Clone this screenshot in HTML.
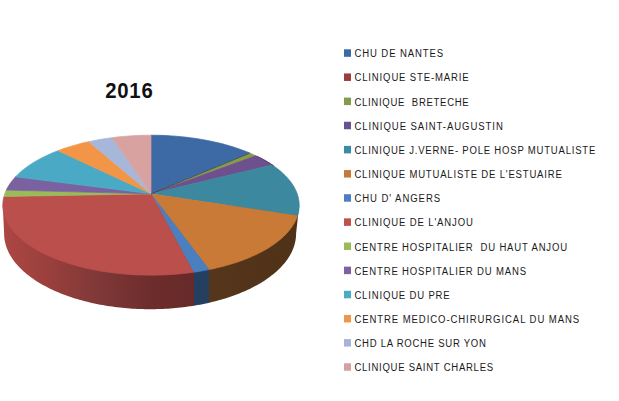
<!DOCTYPE html>
<html><head><meta charset="utf-8"><style>
html,body{margin:0;padding:0;background:#fff;width:619px;height:401px;overflow:hidden}
svg{display:block}
</style></head><body>
<svg width="619" height="401" viewBox="0 0 619 401">
<defs>
<linearGradient id="gr" x1="0" y1="0" x2="1" y2="0" gradientUnits="objectBoundingBox">
<stop offset="0" stop-color="#ad4744"/><stop offset="0.23" stop-color="#9c403d"/><stop offset="0.515" stop-color="#7e3837"/><stop offset="0.77" stop-color="#6e2d2d"/><stop offset="1" stop-color="#672929"/>
</linearGradient>
<linearGradient id="gb" x1="0" y1="0" x2="1" y2="0">
<stop offset="0" stop-color="#56361b"/><stop offset="1" stop-color="#4e3118"/>
</linearGradient>
<clipPath id="cs"><path d="M299.2 205.2 L296.1 233.6 L296.08 234.92 L296.01 236.24 L295.9 237.56 L295.74 238.87 L295.54 240.19 L295.3 241.5 L295.01 242.81 L294.68 244.12 L294.3 245.43 L293.88 246.73 L293.42 248.03 L292.91 249.32 L292.36 250.61 L291.76 251.89 L291.13 253.17 L290.44 254.44 L289.72 255.7 L288.95 256.96 L288.15 258.21 L287.3 259.46 L286.4 260.69 L285.47 261.92 L284.49 263.14 L283.48 264.35 L282.42 265.55 L281.32 266.74 L280.19 267.92 L279.01 269.09 L277.79 270.25 L276.54 271.4 L275.25 272.54 L273.92 273.66 L272.55 274.77 L271.14 275.87 L269.7 276.96 L268.22 278.04 L266.7 279.1 L265.15 280.14 L263.56 281.18 L261.94 282.19 L260.29 283.2 L258.6 284.19 L256.88 285.16 L255.12 286.12 L253.34 287.06 L251.52 287.98 L249.67 288.89 L247.79 289.78 L245.88 290.66 L243.95 291.51 L241.98 292.35 L239.99 293.17 L237.96 293.98 L235.92 294.76 L233.84 295.53 L231.74 296.28 L229.62 297 L227.47 297.71 L225.3 298.4 L223.1 299.07 L220.88 299.72 L218.64 300.35 L216.38 300.96 L214.1 301.55 L211.8 302.12 L209.48 302.66 L207.15 303.19 L204.79 303.7 L202.42 304.18 L200.03 304.64 L197.63 305.08 L195.22 305.5 L192.79 305.9 L190.34 306.27 L187.89 306.62 L185.42 306.95 L182.94 307.26 L180.46 307.55 L177.96 307.81 L175.45 308.05 L172.94 308.27 L170.42 308.46 L167.89 308.64 L165.36 308.79 L162.82 308.91 L160.28 309.02 L157.74 309.1 L155.2 309.15 L152.65 309.19 L150.1 309.2 L147.55 309.19 L145 309.15 L142.46 309.1 L139.92 309.02 L137.38 308.91 L134.84 308.79 L132.31 308.64 L129.78 308.46 L127.26 308.27 L124.75 308.05 L122.24 307.81 L119.74 307.55 L117.26 307.26 L114.78 306.95 L112.31 306.62 L109.86 306.27 L107.41 305.9 L104.98 305.5 L102.57 305.08 L100.17 304.64 L97.78 304.18 L95.41 303.7 L93.05 303.19 L90.72 302.66 L88.4 302.12 L86.1 301.55 L83.82 300.96 L81.56 300.35 L79.32 299.72 L77.1 299.07 L74.9 298.4 L72.73 297.71 L70.58 297 L68.46 296.28 L66.36 295.53 L64.28 294.76 L62.24 293.98 L60.21 293.17 L58.22 292.35 L56.25 291.51 L54.32 290.66 L52.41 289.78 L50.53 288.89 L48.68 287.98 L46.86 287.06 L45.08 286.12 L43.32 285.16 L41.6 284.19 L39.91 283.2 L38.26 282.19 L36.64 281.18 L35.05 280.14 L33.5 279.1 L31.98 278.04 L30.5 276.96 L29.06 275.87 L27.65 274.77 L26.28 273.66 L24.95 272.54 L23.66 271.4 L22.41 270.25 L21.19 269.09 L20.01 267.92 L18.88 266.74 L17.78 265.55 L16.72 264.35 L15.71 263.14 L14.73 261.92 L13.8 260.69 L12.9 259.46 L12.05 258.21 L11.25 256.96 L10.48 255.7 L9.76 254.44 L9.07 253.17 L8.44 251.89 L7.84 250.61 L7.29 249.32 L6.78 248.03 L6.32 246.73 L5.9 245.43 L5.52 244.12 L5.19 242.81 L4.9 241.5 L4.66 240.19 L4.46 238.87 L4.3 237.56 L4.19 236.24 L4.12 234.92 L4.1 233.6 L2.8 205.2Z"/></clipPath>
</defs>
<rect width="619" height="401" fill="#fff"/>
<g clip-path="url(#cs)">
<rect x="0" y="190" width="194" height="130" fill="url(#gr)"/>
<rect x="194" y="190" width="15" height="130" fill="#243f5f"/>
<rect x="209" y="190" width="101" height="130" fill="url(#gb)"/>
</g>
<path d="M151 193.8 L151 135.2 L156.15 135.24 L161.3 135.37 L166.44 135.58 L171.55 135.88 L176.64 136.26 L181.7 136.72 L186.73 137.26 L191.71 137.89 L196.64 138.6 L201.51 139.39 L206.33 140.26 L211.07 141.21 L215.75 142.23 L220.34 143.34 L224.86 144.51 L229.28 145.76 L233.61 147.08 L237.84 148.48 L241.96 149.94 L245.97 151.46 L249.87 153.06Z" fill="#3d69a5" stroke="#3d69a5" stroke-width="0.7" stroke-linejoin="round"/>
<path d="M151 193.8 L249.87 153.06 L252.92 154.38 L255.88 155.74Z" fill="#879c4a" stroke="#879c4a" stroke-width="0.7" stroke-linejoin="round"/>
<path d="M151 193.8 L255.88 155.74 L259.4 157.47 L262.8 159.25 L266.06 161.08 L269.19 162.97 L272.18 164.91Z" fill="#6d508d" stroke="#6d508d" stroke-width="0.7" stroke-linejoin="round"/>
<path d="M151 193.8 L272.18 164.91 L275.08 166.92 L277.83 168.99 L280.42 171.09 L282.85 173.24 L285.13 175.43 L287.24 177.65 L289.19 179.91 L290.97 182.19 L292.58 184.51 L294.02 186.85 L295.28 189.21 L296.37 191.59 L297.29 193.99 L298.03 196.4 L298.58 198.83 L298.96 201.26 L299.17 203.69 L299.19 206.13 L299.03 208.56 L298.69 211 L298.17 213.42 L297.48 215.83Z" fill="#3c889f" stroke="#3c889f" stroke-width="0.7" stroke-linejoin="round"/>
<path d="M151 193.8 L297.48 215.83 L296.63 218.17 L295.62 220.5 L294.44 222.8 L293.09 225.09 L291.59 227.35 L289.92 229.58 L288.09 231.79 L286.1 233.97 L283.96 236.12 L281.67 238.23 L279.23 240.3 L276.63 242.33 L273.9 244.32 L271.02 246.26 L268.01 248.16 L264.86 250.01 L261.58 251.8 L258.18 253.55 L254.65 255.23 L251 256.86 L247.24 258.43 L243.36 259.94 L239.39 261.39 L235.31 262.77 L231.13 264.09 L226.86 265.33 L222.5 266.51 L218.06 267.62 L213.55 268.66 L208.96 269.62Z" fill="#c97a37" stroke="#c97a37" stroke-width="0.7" stroke-linejoin="round"/>
<path d="M151 193.8 L208.96 269.62 L205.14 270.36 L201.27 271.05 L197.36 271.69 L193.42 272.27Z" fill="#4a80bf" stroke="#4a80bf" stroke-width="0.7" stroke-linejoin="round"/>
<path d="M151 193.8 L193.42 272.27 L188.45 272.93 L183.43 273.5 L178.38 274 L173.29 274.4 L168.17 274.73 L163.04 274.97 L157.89 275.12 L152.73 275.2 L147.56 275.18 L142.41 275.08 L137.26 274.9 L132.13 274.63 L127.02 274.28 L121.94 273.84 L116.9 273.32 L111.9 272.72 L106.95 272.04 L102.04 271.27 L97.2 270.43 L92.43 269.5 L87.72 268.5 L83.09 267.42 L78.55 266.26 L74.09 265.04 L69.73 263.73 L65.46 262.36 L61.3 260.92 L57.24 259.41 L53.3 257.84 L49.48 256.2 L45.78 254.5 L42.21 252.74 L38.77 250.92 L35.47 249.04 L32.31 247.12 L29.29 245.14 L26.42 243.11 L23.7 241.04 L21.14 238.93 L18.73 236.77 L16.48 234.57 L14.4 232.34 L12.48 230.08 L10.73 227.79 L9.15 225.47 L7.74 223.12 L6.5 220.75 L5.45 218.37 L4.56 215.97 L3.86 213.55 L3.33 211.13 L2.98 208.69 L2.82 206.26 L2.83 203.82 L3.02 201.38 L3.39 198.95 L3.94 196.53Z" fill="#bb4f4c" stroke="#bb4f4c" stroke-width="0.7" stroke-linejoin="round"/>
<path d="M151 193.8 L3.94 196.53 L4.59 194.37 L5.37 192.22 L6.3 190.08Z" fill="#9bbb59" stroke="#9bbb59" stroke-width="0.7" stroke-linejoin="round"/>
<path d="M151 193.8 L6.3 190.08 L7.44 187.82 L8.75 185.57 L10.21 183.34 L11.83 181.14 L13.6 178.97 L15.53 176.82Z" fill="#7a62a0" stroke="#7a62a0" stroke-width="0.7" stroke-linejoin="round"/>
<path d="M151 193.8 L15.53 176.82 L17.64 174.66 L19.92 172.54 L22.34 170.46 L24.91 168.42 L27.63 166.42 L30.49 164.46 L33.48 162.55 L36.62 160.69 L39.88 158.88 L43.27 157.13 L46.79 155.43 L50.43 153.79 L54.18 152.2 L58.05 150.68Z" fill="#4aa9c5" stroke="#4aa9c5" stroke-width="0.7" stroke-linejoin="round"/>
<path d="M151 193.8 L58.05 150.68 L61.62 149.36 L65.28 148.1 L69.01 146.89 L72.82 145.73 L76.71 144.63 L80.67 143.59 L84.69 142.6 L88.77 141.67Z" fill="#f29546" stroke="#f29546" stroke-width="0.7" stroke-linejoin="round"/>
<path d="M151 193.8 L88.77 141.67 L93.33 140.72 L97.96 139.84 L102.66 139.03 L107.4 138.3 L112.2 137.64Z" fill="#a6b7da" stroke="#a6b7da" stroke-width="0.7" stroke-linejoin="round"/>
<path d="M151 193.8 L112.2 137.64 L116.95 137.07 L121.75 136.58 L126.57 136.16 L131.43 135.81 L136.3 135.55 L141.19 135.35 L146.09 135.24 L151 135.2Z" fill="#d8a2a1" stroke="#d8a2a1" stroke-width="0.7" stroke-linejoin="round"/>
<path d="M256.92 156.24 L257.86 156.7 L258.78 157.16 L259.7 157.62 L260.61 158.09 L261.51 158.56 L262.4 159.03 L263.28 159.51 L264.15 159.99 L265.01 160.48 L265.87 160.97 L266.71 161.46 L267.54 161.96 L268.37 162.46 L269.18 162.96 L269.99 163.47 L270.78 163.98 L271.57 164.5 L272.34 165.01 L273.11 165.53 L273.87 166.06" fill="none" stroke="#3e2d55" stroke-width="1.1" opacity="0.55"/>
<line x1="151" y1="193.8" x2="249.6" y2="153.2" stroke="#2f3f66" stroke-width="1" opacity="0.8"/>
<text transform="translate(105.2 97.8) scale(0.94 1)" font-family="Liberation Sans" font-weight="bold" font-size="21.6" fill="#111" textLength="50.6" lengthAdjust="spacing">2016</text>
<rect x="344" y="49.3" width="7" height="7.5" fill="#3c6aa6"/>
<text transform="translate(354.4 57.3) scale(0.83 1)" font-family="Liberation Sans" font-size="11.5" fill="#1a1a1a" textLength="106.99" lengthAdjust="spacing" xml:space="preserve">CHU DE NANTES</text>
<rect x="344" y="73.45" width="7" height="7.5" fill="#9b3d3a"/>
<text transform="translate(354.4 81.45) scale(0.83 1)" font-family="Liberation Sans" font-size="11.5" fill="#1a1a1a" textLength="137.71" lengthAdjust="spacing" xml:space="preserve">CLINIQUE STE-MARIE</text>
<rect x="344" y="97.6" width="7" height="7.5" fill="#839c4c"/>
<text transform="translate(354.4 105.6) scale(0.83 1)" font-family="Liberation Sans" font-size="11.5" fill="#1a1a1a" textLength="137.71" lengthAdjust="spacing" xml:space="preserve">CLINIQUE &#160;BRETECHE</text>
<rect x="344" y="121.75" width="7" height="7.5" fill="#6a5290"/>
<text transform="translate(354.4 129.75) scale(0.83 1)" font-family="Liberation Sans" font-size="11.5" fill="#1a1a1a" textLength="178.8" lengthAdjust="spacing" xml:space="preserve">CLINIQUE SAINT-AUGUSTIN</text>
<rect x="344" y="145.9" width="7" height="7.5" fill="#3a8aa8"/>
<text transform="translate(354.4 153.9) scale(0.83 1)" font-family="Liberation Sans" font-size="11.5" fill="#1a1a1a" textLength="290.24" lengthAdjust="spacing" xml:space="preserve">CLINIQUE J.VERNE- POLE HOSP MUTUALISTE</text>
<rect x="344" y="170.05" width="7" height="7.5" fill="#c8793a"/>
<text transform="translate(354.4 178.05) scale(0.83 1)" font-family="Liberation Sans" font-size="11.5" fill="#1a1a1a" textLength="249.88" lengthAdjust="spacing" xml:space="preserve">CLINIQUE MUTUALISTE DE L&#39;ESTUAIRE</text>
<rect x="344" y="194.2" width="7" height="7.5" fill="#4a7fc5"/>
<text transform="translate(354.4 202.2) scale(0.83 1)" font-family="Liberation Sans" font-size="11.5" fill="#1a1a1a" textLength="103.25" lengthAdjust="spacing" xml:space="preserve">CHU D&#39; ANGERS</text>
<rect x="344" y="218.35" width="7" height="7.5" fill="#bf504d"/>
<text transform="translate(354.4 226.35) scale(0.83 1)" font-family="Liberation Sans" font-size="11.5" fill="#1a1a1a" textLength="142.65" lengthAdjust="spacing" xml:space="preserve">CLINIQUE DE L&#39;ANJOU</text>
<rect x="344" y="242.5" width="7" height="7.5" fill="#9bbb59"/>
<text transform="translate(354.4 250.5) scale(0.83 1)" font-family="Liberation Sans" font-size="11.5" fill="#1a1a1a" textLength="256.27" lengthAdjust="spacing" xml:space="preserve">CENTRE HOSPITALIER &#160;DU HAUT ANJOU</text>
<rect x="344" y="266.65" width="7" height="7.5" fill="#7d61a0"/>
<text transform="translate(354.4 274.65) scale(0.83 1)" font-family="Liberation Sans" font-size="11.5" fill="#1a1a1a" textLength="206.75" lengthAdjust="spacing" xml:space="preserve">CENTRE HOSPITALIER DU MANS</text>
<rect x="344" y="290.8" width="7" height="7.5" fill="#4aabc5"/>
<text transform="translate(354.4 298.8) scale(0.83 1)" font-family="Liberation Sans" font-size="11.5" fill="#1a1a1a" textLength="114.82" lengthAdjust="spacing" xml:space="preserve">CLINIQUE DU PRE</text>
<rect x="344" y="314.95" width="7" height="7.5" fill="#f0964a"/>
<text transform="translate(354.4 322.95) scale(0.83 1)" font-family="Liberation Sans" font-size="11.5" fill="#1a1a1a" textLength="270.72" lengthAdjust="spacing" xml:space="preserve">CENTRE MEDICO-CHIRURGICAL DU MANS</text>
<rect x="344" y="339.1" width="7" height="7.5" fill="#a5b4d8"/>
<text transform="translate(354.4 347.1) scale(0.83 1)" font-family="Liberation Sans" font-size="11.5" fill="#1a1a1a" textLength="158.43" lengthAdjust="spacing" xml:space="preserve">CHD LA ROCHE SUR YON</text>
<rect x="344" y="363.25" width="7" height="7.5" fill="#d5a1a0"/>
<text transform="translate(354.4 371.25) scale(0.83 1)" font-family="Liberation Sans" font-size="11.5" fill="#1a1a1a" textLength="167.11" lengthAdjust="spacing" xml:space="preserve">CLINIQUE SAINT CHARLES</text>
</svg>
</body></html>
